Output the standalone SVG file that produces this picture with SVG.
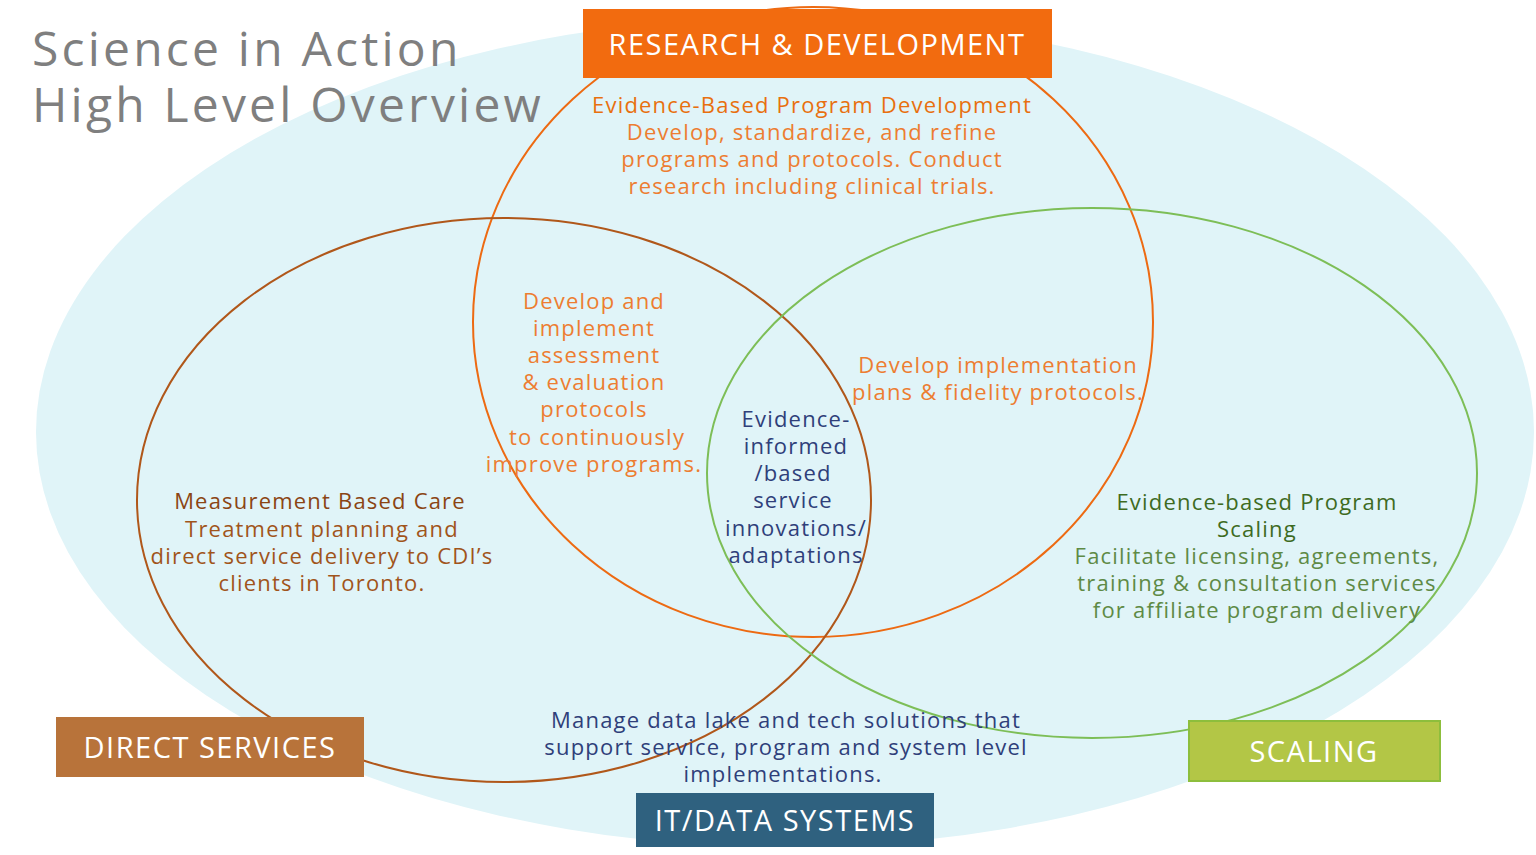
<svg xmlns="http://www.w3.org/2000/svg" width="1536" height="855" viewBox="0 0 1536 855">
<style>
text{font-family:"Open Sans","Liberation Sans",sans-serif;font-size:22px;text-anchor:middle;letter-spacing:1.2px}
.title{font-size:48px;fill:#7f7f7f;text-anchor:start;letter-spacing:3.2px}
.or{fill:#ED7D31}.br{fill:#A0541B}.gr{fill:#4E7A2A}.bl{fill:#2F3F7A}
.box{font-size:29px;fill:#fff;letter-spacing:1.5px}
</style>
<rect width="1536" height="855" fill="#fff"/>
<ellipse cx="785" cy="432" rx="749" ry="415" fill="#E0F4F8"/>
<g id="connectors" fill="none" stroke-width="2">
<ellipse cx="813" cy="322" rx="340" ry="315" stroke="#ED6A12"/>
<ellipse cx="504" cy="500" rx="367" ry="282" stroke="#B0571A"/>
<ellipse cx="1092" cy="473" rx="385" ry="265" stroke="#7DBE57"/>
</g>
<text class="title" x="32" y="66">Science in Action</text>
<text class="title" x="32" y="122">High Level Overview</text>
<g id="rd"><rect x="583" y="9" width="469" height="69" fill="#F26B0F"/><text class="box" x="817" y="55">RESEARCH &amp; DEVELOPMENT</text></g>
<g id="ds"><rect x="56" y="717" width="308" height="60" fill="#B8733A"/><text class="box" x="210" y="758">DIRECT SERVICES</text></g>
<g id="sc"><rect x="1189" y="721" width="251" height="60" fill="#B3C646" stroke="#8DBE3C" stroke-width="2"/><text class="box" x="1314" y="762">SCALING</text></g>
<g id="it"><rect x="636" y="793" width="298" height="54" fill="#2F617F"/><text class="box" x="785" y="831">IT/DATA SYSTEMS</text></g>
<g id="t-rd" class="or"><text x="812" y="113" style="fill:#E8700F">Evidence-Based Program Development</text><text x="812" y="140">Develop, standardize, and refine</text><text x="812" y="167">programs and protocols. Conduct</text><text x="812" y="194">research including clinical trials.</text></g>
<g id="t-ov1" class="or"><text x="594" y="309">Develop and</text><text x="594" y="336">implement</text><text x="594" y="363">assessment</text><text x="594" y="390">&amp; evaluation</text><text x="594" y="417">protocols</text><text x="597" y="445">to continuously</text><text x="594" y="472">improve programs.</text></g>
<g id="t-ov2" class="or"><text x="998" y="373">Develop implementation</text><text x="998" y="400">plans &amp; fidelity protocols.</text></g>
<g id="t-c" class="bl"><text x="796" y="427">Evidence-</text><text x="796" y="454">informed</text><text x="793" y="481">/based</text><text x="793" y="508">service</text><text x="796" y="536">innovations/</text><text x="796" y="563">adaptations</text></g>
<g id="t-ds" class="br"><text x="320" y="509" style="fill:#8B4513">Measurement Based Care</text><text x="322" y="537">Treatment planning and</text><text x="322" y="564">direct service delivery to CDI’s</text><text x="322" y="591">clients in Toronto.</text></g>
<g id="t-sc" class="gr"><text x="1257" y="510" style="fill:#3E6B1F">Evidence-based Program</text><text x="1257" y="537" style="fill:#3E6B1F">Scaling</text><text x="1257" y="564" style="fill:#5E8A45">Facilitate licensing, agreements,</text><text x="1257" y="591" style="fill:#5E8A45">training &amp; consultation services</text><text x="1257" y="618" style="fill:#5E8A45">for affiliate program delivery</text></g>
<g id="t-it" class="bl"><text x="786" y="728">Manage data lake and tech solutions that</text><text x="786" y="755">support service, program and system level</text><text x="783" y="782">implementations.</text></g>
</svg>
